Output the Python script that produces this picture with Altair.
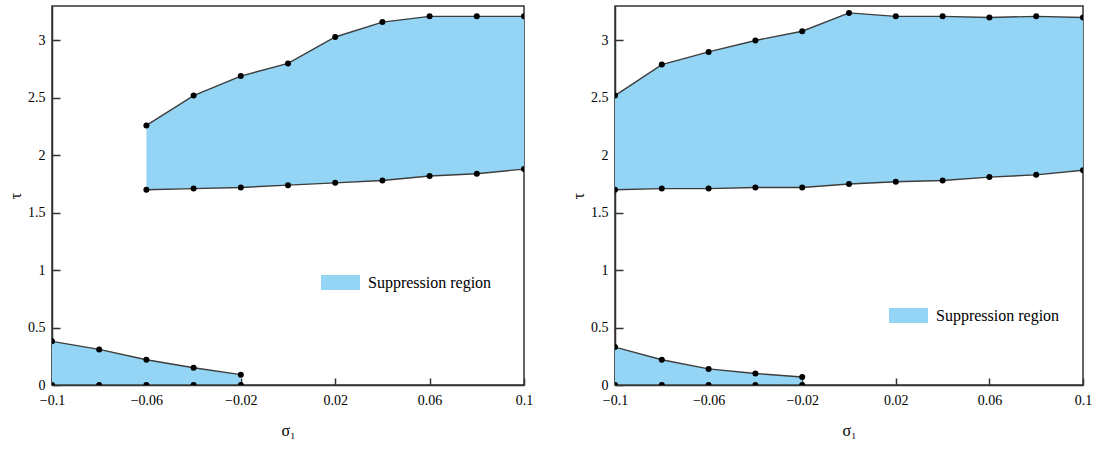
import altair as alt
import pandas as pd

sigma = [-0.1, -0.08, -0.06, -0.04, -0.02, 0.0, 0.02, 0.04, 0.06, 0.08, 0.1]

# Left panel
a_upper_sigma = sigma[2:]
a_upper_hi = [2.26, 2.52, 2.69, 2.80, 3.03, 3.16, 3.21, 3.21, 3.21]
a_upper_lo = [1.70, 1.71, 1.72, 1.74, 1.76, 1.78, 1.82, 1.84, 1.88]
a_lower_sigma = sigma[:5]
a_lower_hi = [0.38, 0.31, 0.22, 0.15, 0.09]
a_lower_lo = [0.0, 0.0, 0.0, 0.0, 0.0]

# Right panel
b_upper_sigma = sigma
b_upper_hi = [2.52, 2.79, 2.90, 3.00, 3.08, 3.24, 3.21, 3.21, 3.20, 3.21, 3.20]
b_upper_lo = [1.70, 1.71, 1.71, 1.72, 1.72, 1.75, 1.77, 1.78, 1.81, 1.83, 1.87]
b_lower_sigma = sigma[:5]
b_lower_hi = [0.33, 0.22, 0.14, 0.10, 0.07]
b_lower_lo = [0.0, 0.0, 0.0, 0.0, 0.0]

x_ticks = [-0.1, -0.06, -0.02, 0.02, 0.06, 0.1]
y_ticks = [0, 0.5, 1, 1.5, 2, 2.5, 3]
legend_label = "Suppression region"

FONT = "Liberation Serif"
FILL = "#94d5f5"
LINE = "#3d3d3d"
FRAME = "#333333"


def panel(regions, width, height, lx, ly):
    rows = []
    for name, xs, hi, lo in regions:
        for x, h, l in zip(xs, hi, lo):
            rows.append({"region": name, "sigma": x, "hi": h, "lo": l, "label": legend_label})
    df = pd.DataFrame(rows)
    xsc = alt.Scale(domain=[-0.1, 0.1], nice=False, zero=False)
    ysc = alt.Scale(domain=[0, 3.3], nice=False, zero=False)
    xaxis = alt.Axis(values=x_ticks, title="σ₁", format="~g", tickSize={"expr": "-7"},
                     labelPadding=15, titlePadding=15, labelFlush=False)
    yaxis = alt.Axis(values=y_ticks, title="τ", format="~g", tickSize={"expr": "-8"},
                     labelPadding=15, titlePadding=4)
    base = alt.Chart(df)
    area = base.mark_area(clip=True, opacity=1).encode(
        x=alt.X("sigma:Q", scale=xsc, axis=xaxis),
        y=alt.Y("hi:Q", scale=ysc, axis=yaxis),
        y2="lo:Q",
        detail="region:N",
        color=alt.Color("label:N", scale=alt.Scale(range=[FILL]),
                        legend=alt.Legend(title=None, orient="none", legendX=lx, legendY=ly,
                                          symbolType="M-1,-0.385H1V0.385H-1Z",
                                          symbolSize=1521, symbolStrokeWidth=0,
                                          symbolOpacity=1, labelFont=FONT,
                                          labelFontSize=16, labelColor="black",
                                          labelOffset=8, padding=0)),
    )
    folded = base.transform_fold(["hi", "lo"], as_=["edge", "tau"])
    lines = folded.mark_line(clip=True, color=LINE, strokeWidth=1.4).encode(
        x=alt.X("sigma:Q", scale=xsc, axis=xaxis),
        y=alt.Y("tau:Q", scale=ysc, axis=yaxis),
        detail=["region:N", "edge:N"],
    )
    pts = folded.mark_circle(clip=True, color="black", opacity=1, size=36).encode(
        x=alt.X("sigma:Q", scale=xsc, axis=xaxis),
        y=alt.Y("tau:Q", scale=ysc, axis=yaxis),
    )
    return alt.layer(area, lines, pts).properties(width=width, height=height)


left = panel([("upper", a_upper_sigma, a_upper_hi, a_upper_lo),
              ("lower", a_lower_sigma, a_lower_hi, a_lower_lo)], 472, 379, 269, 257)
right = panel([("upper", b_upper_sigma, b_upper_hi, b_upper_lo),
               ("lower", b_lower_sigma, b_lower_hi, b_lower_lo)], 468, 379, 274, 290)

chart = alt.hconcat(left, right, spacing=91, bounds="flush").resolve_scale(
    color="independent").properties(
    padding={"left": 6, "top": 5, "right": 5, "bottom": 5}
).configure(background="white").configure_view(
    stroke=FRAME, strokeWidth=1.5
).configure_axis(
    grid=False, domainColor=FRAME, domainWidth=1.5, tickColor=FRAME, tickWidth=1.5,
    labelFont=FONT, labelFontSize=14, labelColor="black",
    titleFont=FONT, titleFontSize=16, titleColor="black", titleFontWeight="normal",
)

chart.save("out.html", embed_options={"renderer": "svg", "actions": False})
